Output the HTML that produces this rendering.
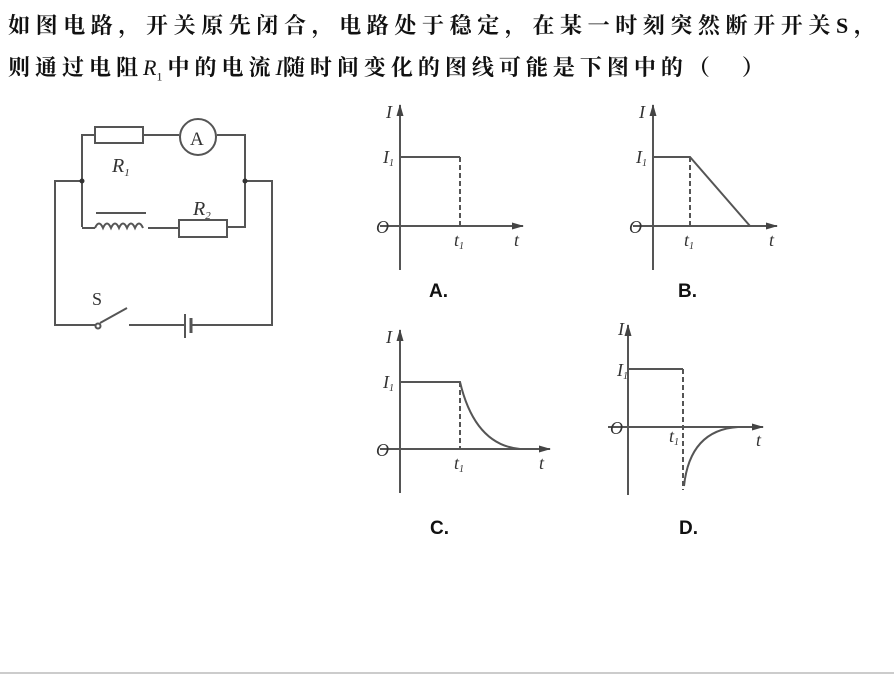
<!DOCTYPE html>
<html><head><meta charset="utf-8"><style>
body{margin:0;width:894px;height:674px;background:#fff;overflow:hidden;position:relative;font-family:"Liberation Serif","Noto Serif CJK SC",serif}
.t{position:absolute;left:8px;font-size:22px;letter-spacing:5.6px;font-weight:bold;color:#111;white-space:nowrap;line-height:26px}
.hr{position:absolute;left:0;top:672px;width:894px;height:2px;background:#ccc}
</style></head><body>
<div class="t" style="top:13px">如图电路，开关原先闭合，电路处于稳定，在某一时刻突然断开开关S，</div>
<div class="t" style="top:55px;letter-spacing:5px">则通过电阻<i style="font-weight:normal;letter-spacing:0">R</i><sub style="font-size:12px;font-weight:normal">1</sub>中的电流<i style="font-weight:normal;letter-spacing:0">I</i>随时间变化的图线可能是下图中的（　）</div>
<svg width="894" height="674" style="position:absolute;left:0;top:0" font-family="Liberation Serif, serif">
<defs><marker id="ar" markerUnits="userSpaceOnUse" markerWidth="12" markerHeight="10" refX="11" refY="5" orient="auto"><path d="M0,1.5 L12,5 L0,8.5z" fill="#444"/></marker></defs>
<g stroke="#555" stroke-width="2" fill="none">
<path d="M82,227 V135 H95 M143,135 H179 M217,135 H245 V227 H227 M179,228 H148 M95,228 H82"/>
<rect x="95" y="127" width="48" height="16" fill="#fff"/>
<circle cx="198" cy="137" r="18" fill="#fff"/>
<rect x="179" y="220" width="48" height="17" fill="#fff"/>
<path d="M95,228 q4,-9 8,0 q4,-9 8,0 q4,-9 8,0 q4,-9 8,0 q4,-9 8,0 q4,-9 8,0 "/>
<path d="M96,213 H146"/>
<path d="M82,181 H55 V325 H96 M100,323 L127,308 M129,325 H184 M192,325 H272 V181 H245"/>
<path d="M185,314 V338" stroke-width="2"/><path d="M191,318 V333" stroke-width="3"/>
<circle cx="98" cy="326" r="2.5"/>
</g>
<circle cx="82" cy="181" r="2.5" fill="#333"/><circle cx="245" cy="181" r="2.5" fill="#333"/>
<g font-style="italic" font-size="20" fill="#333">
<text x="190" y="145" font-style="normal" font-size="19">A</text>
<text x="112" y="172">R<tspan font-size="11" dy="4">1</tspan></text>
<text x="193" y="215">R<tspan font-size="11" dy="4">2</tspan></text>
<text x="92" y="305" font-style="normal" font-size="18">S</text>
</g>
<g stroke="#555" stroke-width="2" fill="none">
<path d="M400,270 V105" marker-end="url(#ar)"/><path d="M380,226 H523" marker-end="url(#ar)"/>
<path d="M400,157 H460"/><path d="M460,157 V226" stroke-dasharray="5,3"/>
<path d="M653,270 V105" marker-end="url(#ar)"/><path d="M633,226 H777" marker-end="url(#ar)"/>
<path d="M653,157 H690 L750,226"/><path d="M690,157 V226" stroke-dasharray="5,3"/>
<path d="M400,493 V330" marker-end="url(#ar)"/><path d="M380,449 H550" marker-end="url(#ar)"/>
<path d="M400,382 H460 Q475,445 520,449"/><path d="M460,382 V449" stroke-dasharray="5,3"/>
<path d="M628,495 V325" marker-end="url(#ar)"/><path d="M608,427 H763" marker-end="url(#ar)"/>
<path d="M628,369 H683"/><path d="M683,369 V490" stroke-dasharray="5,3"/>
<path d="M684,486 Q690,430 738,427"/>
</g>
<g font-style="italic" font-size="18" fill="#333">
<text x="386" y="118">I</text><text x="383" y="163">I<tspan font-size="10" dy="3">1</tspan></text><text x="376" y="233">O</text><text x="454" y="246">t<tspan font-size="10" dy="3">1</tspan></text><text x="514" y="246">t</text>
<text x="639" y="118">I</text><text x="636" y="163">I<tspan font-size="10" dy="3">1</tspan></text><text x="629" y="233">O</text><text x="684" y="246">t<tspan font-size="10" dy="3">1</tspan></text><text x="769" y="246">t</text>
<text x="386" y="343">I</text><text x="383" y="388">I<tspan font-size="10" dy="3">1</tspan></text><text x="376" y="456">O</text><text x="454" y="469">t<tspan font-size="10" dy="3">1</tspan></text><text x="539" y="469">t</text>
<text x="618" y="335">I</text><text x="617" y="376">I<tspan font-size="10" dy="3">1</tspan></text><text x="610" y="434">O</text><text x="669" y="442">t<tspan font-size="10" dy="3">1</tspan></text><text x="756" y="446">t</text>
</g>
<g font-family="Liberation Sans, sans-serif" font-weight="bold" font-size="19" fill="#111">
<text x="429" y="297">A.</text><text x="678" y="297">B.</text><text x="430" y="534">C.</text><text x="679" y="534">D.</text>
</g>
</svg>
<div class="hr"></div>
</body></html>
